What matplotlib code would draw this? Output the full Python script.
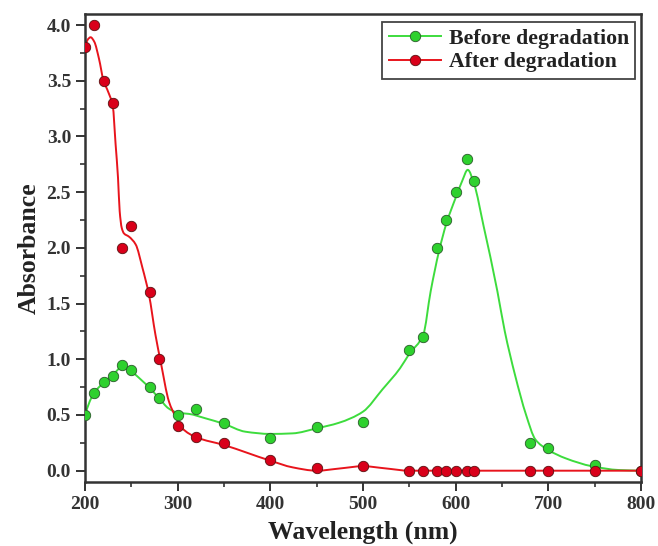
import numpy as np
import matplotlib
matplotlib.use("Agg")
import matplotlib.pyplot as plt
from matplotlib.path import Path
from matplotlib.patches import PathPatch
from matplotlib.ticker import MultipleLocator

# measured absorbance points
wl_before = [200, 210, 220, 230, 240, 250, 270, 280, 300, 320, 350, 400, 450,
             500, 550, 565, 580, 590, 600, 612, 620, 680, 700, 750, 800]
abs_before = [0.50, 0.70, 0.80, 0.85, 0.95, 0.90, 0.75, 0.65, 0.50, 0.55, 0.43,
              0.29, 0.39, 0.44, 1.08, 1.20, 2.00, 2.25, 2.50, 2.80, 2.60, 0.25,
              0.20, 0.05, 0.00]

wl_after = [200, 210, 220, 230, 240, 250, 270, 280, 300, 320, 350, 400, 450,
            500, 550, 565, 580, 590, 600, 612, 620, 680, 700, 750, 800]
abs_after = [3.80, 4.00, 3.50, 3.30, 2.00, 2.20, 1.60, 1.00, 0.40, 0.30, 0.25,
             0.10, 0.02, 0.04, 0.00, 0.00, 0.00, 0.00, 0.00, 0.00, 0.00, 0.00,
             0.00, 0.00, 0.00]

# smoothed spectra (fitted line knots)
wl_fit_before = [200, 205, 210, 220, 230, 240, 250, 260, 270, 280, 290, 300,
                 312, 330, 350, 373, 400, 424, 450, 474, 500, 521, 540, 550,
                 565, 573, 582, 590, 600, 607, 613, 620, 630, 645, 653, 664,
                 676, 686, 699, 719, 747, 776, 800]
fit_before = [0.50, 0.62, 0.70, 0.79, 0.86, 0.93, 0.89, 0.82, 0.74, 0.65, 0.56,
              0.52, 0.51, 0.47, 0.42, 0.35, 0.33, 0.335, 0.38, 0.43, 0.53, 0.73,
              0.92, 1.05, 1.22, 1.61, 1.97, 2.22, 2.45, 2.60, 2.70, 2.57, 2.20,
              1.61, 1.25, 0.86, 0.50, 0.28, 0.19, 0.11, 0.04, 0.006, 0.0]

wl_fit_after = [200, 203, 206, 210, 215, 220, 225, 230, 233, 235.6, 237.4,
                239.6, 242, 247.5, 254.7, 262, 269, 276, 281.6, 290.6, 298,
                305, 320, 350, 400, 424, 450, 475, 500, 525, 550, 800]
fit_after = [3.81, 3.87, 3.89, 3.85, 3.70, 3.50, 3.40, 3.27, 2.93, 2.63, 2.33,
             2.18, 2.13, 2.10, 2.03, 1.82, 1.58, 1.22, 0.98, 0.62, 0.48, 0.38,
             0.30, 0.23, 0.09, 0.03, 0.00, 0.02, 0.04, 0.02, 0.00, 0.00]


def smooth_path(x, y):
    """Cubic Bezier path through the knots (monotone Hermite tangents)."""
    x = np.asarray(x, float)
    y = np.asarray(y, float)
    h = np.diff(x)
    d = np.diff(y) / h
    m = np.zeros_like(y)
    m[0], m[-1] = d[0], d[-1]
    for i in range(1, len(y) - 1):
        if d[i - 1] * d[i] > 0:
            w1 = 2 * h[i] + h[i - 1]
            w2 = h[i] + 2 * h[i - 1]
            m[i] = (w1 + w2) / (w1 / d[i - 1] + w2 / d[i])
    verts = [(x[0], y[0])]
    codes = [Path.MOVETO]
    for i in range(len(x) - 1):
        verts += [(x[i] + h[i] / 3, y[i] + m[i] * h[i] / 3),
                  (x[i + 1] - h[i] / 3, y[i + 1] - m[i + 1] * h[i] / 3),
                  (x[i + 1], y[i + 1])]
        codes += [Path.CURVE4] * 3
    return Path(verts, codes)


plt.rcParams['font.family'] = ['Liberation Serif', 'DejaVu Serif']
plt.rcParams['font.weight'] = 'bold'

fig = plt.figure(figsize=(6.58, 5.46), dpi=100)
ax = fig.add_axes([0.1292, 0.1167, 0.845, 0.8577])

green_line = '#3ddc3d'
green_face = '#2ed12e'
red_line = '#e8141c'
red_face = '#d9001a'

ax.add_patch(PathPatch(smooth_path(wl_fit_before, fit_before), fill=False,
                       edgecolor=green_line, lw=1.4, zorder=2))
ax.add_patch(PathPatch(smooth_path(wl_fit_after, fit_after), fill=False,
                       edgecolor=red_line, lw=1.4, zorder=2))
ax.plot(wl_before, abs_before, 'o', ms=7.5, mfc=green_face, mec='#2a5a2a',
        mew=0.6, zorder=3)
ax.plot(wl_after, abs_after, 'o', ms=7.5, mfc=red_face, mec='#5a1010',
        mew=0.6, zorder=4)

# legend proxies: line with marker
ax.plot([], [], '-o', color=green_line, lw=1.4, ms=7.5, mfc=green_face,
        mec='#2a5a2a', mew=0.6, label='Before degradation')
ax.plot([], [], '-o', color=red_line, lw=1.4, ms=7.5, mfc=red_face,
        mec='#5a1010', mew=0.6, label='After degradation')

ax.set_xlim(200, 800)
ax.set_ylim(-0.104, 4.099)
ax.xaxis.set_major_locator(MultipleLocator(100))
ax.xaxis.set_minor_locator(MultipleLocator(50))
ax.yaxis.set_major_locator(MultipleLocator(0.5))
ax.yaxis.set_minor_locator(MultipleLocator(0.25))
ax.yaxis.set_major_formatter(plt.FormatStrFormatter('%.1f'))

ax.tick_params(which='major', direction='out', length=6.5, width=1.4,
               colors='#333333', labelsize=14, pad=3.5)
ax.tick_params(which='minor', direction='out', length=3.6, width=1.2,
               colors='#333333')
for lab in ax.get_xticklabels() + ax.get_yticklabels():
    lab.set_fontweight('bold')
for sp in ax.spines.values():
    sp.set_linewidth(1.8)
    sp.set_color('#333333')

ax.set_xlabel('Wavelength (nm)', fontsize=18.5, fontweight='bold',
              color='#222222', labelpad=5.5)
ax.set_ylabel('Absorbance', fontsize=18.5, fontweight='bold',
              color='#222222', labelpad=4)

leg = ax.legend(loc='upper right', bbox_to_anchor=(0.99, 0.983),
                fancybox=False, framealpha=1, edgecolor='#444444',
                handlelength=2.4, handletextpad=0.35, borderpad=0.3,
                borderaxespad=0, labelspacing=0.15,
                prop={'weight': 'bold', 'size': 15.7})
leg.get_frame().set_linewidth(1.3)
for t in leg.get_texts():
    t.set_color('#222222')

fig.savefig('out.png', dpi=100)
